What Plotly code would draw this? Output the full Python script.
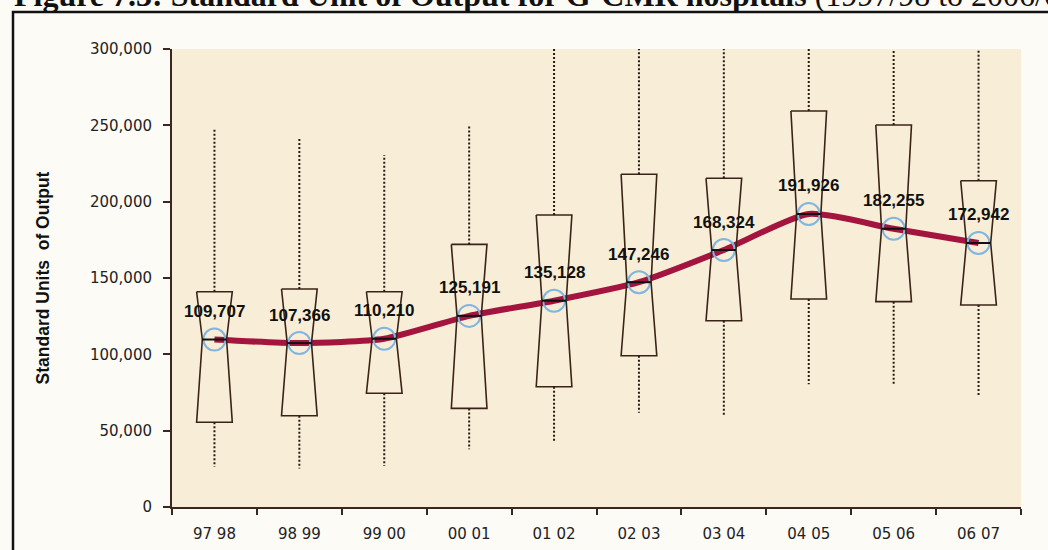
import plotly.graph_objects as go

# ---------------- data ----------------
periods = ["97 98", "98 99", "99 00", "00 01", "01 02", "02 03", "03 04", "04 05", "05 06", "06 07"]
medians = [109707, 107366, 110210, 125191, 135128, 147246, 168324, 191926, 182255, 172942]
q1 = [55500, 59800, 74500, 64600, 78800, 99100, 122000, 136200, 134500, 132300]
q3 = [141000, 142800, 141000, 172000, 191300, 218000, 215300, 259400, 250200, 213700]
lower_whisker = [26400, 25300, 26900, 37800, 43400, 61800, 59600, 80400, 79900, 72700]
upper_whisker = [248000, 242100, 230600, 250200, 310000, 310000, 310000, 310000, 310000, 310000]
y_ticks = [0, 50000, 100000, 150000, 200000, 250000, 300000]
median_labels = [f"{v:,}" for v in medians]

title_bold = "Figure 7.3: Standard Unit of Output for G-CMR hospitals"
title_rest = "(1997/98 to 2006/07)"
y_title = "Standard Units  of Output"

# ---------------- style ----------------
BOX_COL = "#3a2418"
WHISK_COL = "#2a1c14"
RED = "#a3143f"
BLUE = "#7fb6e2"
PLOT_BG = "#f8edd6"
PAPER_BG = "#fdfbf6"
HALF = 0.21
NOTCH = 0.067

fig = go.Figure()

n = len(periods)
idx = list(range(n))

# boxes (notched outlines) + whiskers on hidden numeric axis
for i in idx:
    xs = [i - HALF, i - HALF + NOTCH, i - HALF, i + HALF, i + HALF - NOTCH, i + HALF, i - HALF]
    ys = [q3[i], medians[i], q1[i], q1[i], medians[i], q3[i], q3[i]]
    fig.add_trace(go.Scatter(x=xs, y=ys, mode="lines", xaxis="x2",
                             line=dict(color=BOX_COL, width=1.6),
                             hoverinfo="skip", showlegend=False))
    fig.add_trace(go.Scatter(x=[i, i, None, i, i],
                             y=[q3[i], upper_whisker[i], None, q1[i], lower_whisker[i]],
                             mode="lines", xaxis="x2",
                             line=dict(color=WHISK_COL, width=2, dash="2px,2px"),
                             hoverinfo="skip", showlegend=False))

# red smoothed median line
fig.add_trace(go.Scatter(x=periods, y=medians, mode="lines",
                         line=dict(color=RED, width=6, shape="spline", smoothing=0.6),
                         hoverinfo="skip", showlegend=False))

# median bars
for i in idx:
    fig.add_trace(go.Scatter(x=[i - HALF + NOTCH, i + HALF - NOTCH], y=[medians[i], medians[i]],
                             mode="lines", xaxis="x2",
                             line=dict(color="#111111", width=2),
                             hoverinfo="skip", showlegend=False))

# circles
fig.add_trace(go.Scatter(x=periods, y=medians, mode="markers",
                         marker=dict(symbol="circle-open", size=22, color=BLUE,
                                     line=dict(width=2, color=BLUE)),
                         cliponaxis=False, hoverinfo="skip", showlegend=False))

# ---------------- layout ----------------
L, R, T, B = 172, 27, 49, 43
W, H = 1048, 550
pw, ph = W - L - R, H - T - B

def px_x(px):
    return (px - L) / pw

def px_y(py):
    return (H - B - py) / ph

annotations = [dict(x=p, y=v, xref="x", yref="y", text=t, showarrow=False, yshift=28,
                    font=dict(family="Liberation Sans, Arial", size=17, color="#111111", weight="bold"))
               for p, v, t in zip(periods, medians, median_labels)]
annotations.append(dict(text="<b>" + title_bold + "</b> " + title_rest, xref="paper", yref="paper",
                        x=px_x(12), y=px_y(15), xanchor="left", yanchor="bottom",
                        showarrow=False,
                        font=dict(family="Liberation Serif, Times New Roman", size=32, color="#111111")))

fig.update_layout(
    width=W, height=H,
    margin=dict(l=L, r=R, t=T, b=B, autoexpand=False),
    paper_bgcolor=PAPER_BG,
    plot_bgcolor=PLOT_BG,
    showlegend=False,
    xaxis=dict(type="category", categoryarray=periods, range=[-0.5, n - 0.5],
               tickson="boundaries", ticks="outside", ticklen=6, tickwidth=1.5,
               tickcolor="#3b2620", showline=True, linecolor="#3b2620", linewidth=2,
               showgrid=False, zeroline=False, ticklabelstandoff=12, automargin=False,
               tickfont=dict(family="DejaVu Sans", size=15, color="#222222")),
    xaxis2=dict(overlaying="x", range=[-0.5, n - 0.5], visible=False),
    yaxis=dict(range=[0, 300000], tickvals=y_ticks, tickformat=",",
               ticks="outside", ticklen=7, tickwidth=1.5, tickcolor="#3b2620",
               showline=True, linecolor="#3b2620", linewidth=2, automargin=False,
               showgrid=False, zeroline=False, ticklabelstandoff=8,
               tickfont=dict(family="DejaVu Sans", size=15, color="#222222"),
               title=dict(text="<b>" + y_title + "</b>", standoff=36,
                          font=dict(family="Liberation Sans, Arial", size=17.5, color="#111111"))),
    shapes=[dict(type="rect", xref="paper", yref="paper",
                 x0=px_x(13), x1=px_x(1070), y0=px_y(12), y1=px_y(570),
                 line=dict(color="#111111", width=2.5), fillcolor="rgba(0,0,0,0)",
                 layer="below")],
    annotations=annotations,
)

fig.write_html("out.html", config={"displayModeBar": False},
               post_script="document.body.style.margin='0';")
